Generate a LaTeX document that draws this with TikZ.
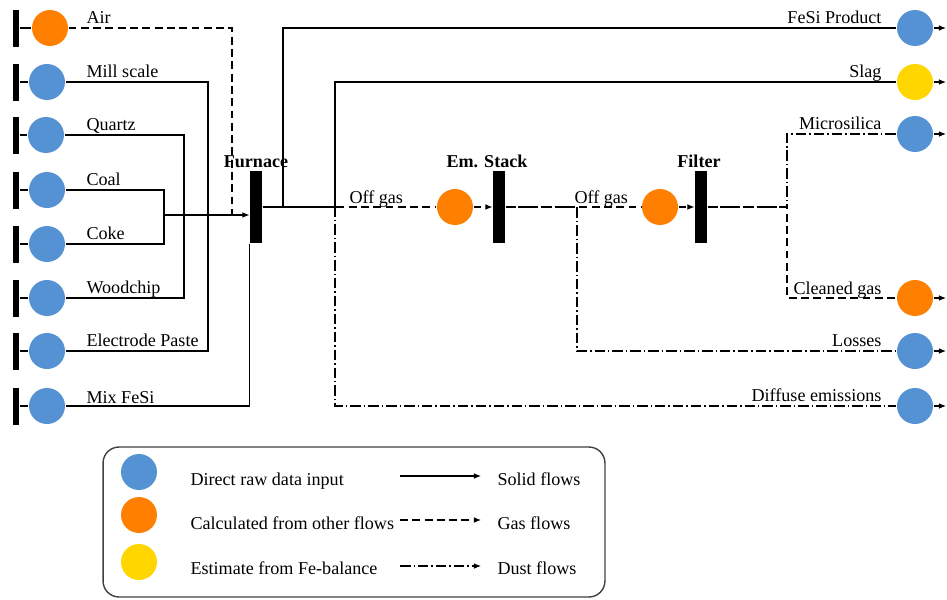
\documentclass[tikz,border=0pt]{standalone}
\usepackage{fontspec}
\setmainfont{Liberation Serif}
\usetikzlibrary{arrows.meta}

\definecolor{rawblue}{RGB}{84,146,211}
\definecolor{calcorange}{RGB}{255,127,0}
\definecolor{estyellow}{RGB}{255,214,0}

\tikzset{
  every node/.style={font=\fontsize{10.3}{12}\selectfont},
  src/.style={circle, minimum size=0.72cm, inner sep=0pt},
  rawdata/.style={src, fill=rawblue},
  calcd/.style={src, fill=calcorange},
  estim/.style={src, fill=estyellow},
  unitbar/.style={fill=black, minimum width=0.24cm, minimum height=1.46cm, inner sep=0pt},
  inbar/.style={fill=black, minimum width=0.12cm, minimum height=0.74cm, inner sep=0pt},
  inlabel/.style={anchor=base west, inner sep=0pt},
  outlabel/.style={anchor=base east, inner sep=0pt},
  unitlabel/.style={anchor=base, inner sep=0pt, font=\fontsize{10.3}{12}\selectfont\bfseries},
  gasflow/.style={dash pattern=on 4.5pt off 2.5pt},
  dustflow/.style={dash pattern=on 6pt off 1.7pt on 0.8pt off 1.7pt}
}

\begin{document}
\begin{tikzpicture}[x=0.02cm, y=-0.02cm, line width=0.6pt, >={Latex[length=4pt, width=3.2pt]}]
\useasboundingbox (0,0) rectangle (947,599);

% inputs, left
\node[inbar] at (16,  28) (airbar) {};
\node[calcd] at (50,  28) (air) {};
\node[inlabel] at (86,  23) (airlab) {Air};

\node[inbar] at (16,  82) (millbar) {};
\node[rawdata] at (47,  82) (mill) {};
\node[inlabel] at (86,  77) (milllab) {Mill scale};

\node[inbar] at (16, 135) (quartzbar) {};
\node[rawdata] at (46, 135) (quartz) {};
\node[inlabel] at (86, 130) (quartzlab) {Quartz};

\node[inbar] at (16, 190) (coalbar) {};
\node[rawdata] at (47, 190) (coal) {};
\node[inlabel] at (86, 185) (coallab) {Coal};

\node[inbar] at (16, 244) (cokebar) {};
\node[rawdata] at (47, 244) (coke) {};
\node[inlabel] at (86, 239) (cokelab) {Coke};

\node[inbar] at (16, 298) (woodbar) {};
\node[rawdata] at (47, 298) (wood) {};
\node[inlabel] at (86, 293) (woodlab) {Woodchip};

\node[inbar] at (16, 351) (pastebar) {};
\node[rawdata] at (47, 351) (paste) {};
\node[inlabel] at (86, 346) (pastelab) {Electrode Paste};

\node[inbar] at (16, 406) (mixbar) {};
\node[rawdata] at (47, 406) (mix) {};
\node[inlabel] at (86, 403) (mixlab) {Mix FeSi};

% process units
\node[unitbar] at (256, 207) (furnace) {};
\node[unitlabel] at (256, 167) (furnacelab) {Furnace};
\node[unitbar] at (499, 207) (stack) {};
\node[unitlabel] at (487, 167) (stacklab) {Em. Stack};
\node[unitbar] at (701, 207) (filter) {};
\node[unitlabel] at (699, 167) (filterlab) {Filter};

\node[calcd] at (455, 207) (gas1) {};
\node[inlabel] at (349, 203) (gas1lab) {Off gas};
\node[calcd] at (660, 207) (gas2) {};
\node[inlabel] at (574, 203) (gas2lab) {Off gas};

% outputs, right
\node[rawdata] at (915,  28) (fesi) {};
\node[outlabel] at (882,  23) (fesilab) {FeSi Product};
\node[estim] at (915,  82) (slag) {};
\node[outlabel] at (882,  77) (slaglab) {Slag};
\node[rawdata] at (915, 134) (micro) {};
\node[outlabel] at (882, 129) (microlab) {Microsilica};
\node[calcd] at (915, 298) (cleaned) {};
\node[outlabel] at (882, 294) (cleanedlab) {Cleaned gas};
\node[rawdata] at (915, 351) (losses) {};
\node[outlabel] at (882, 346) (losseslab) {Losses};
\node[rawdata] at (915, 406) (diffuse) {};
\node[outlabel] at (882, 401) (diffuselab) {Diffuse emissions};

% junctions and free ends
\coordinate (jcoal) at (164, 215);
\coordinate (jquartz) at (184, 215);
\coordinate (jmill) at (208, 215);
\coordinate (jair) at (232, 215);
\coordinate (ofesi) at (283, 207);
\coordinate (oslag) at (335, 207);
\coordinate (olosses) at (577, 207);
\coordinate (ofilter) at (787, 207);
\coordinate (efesi) at (946,  28);
\coordinate (eslag) at (946,  82);
\coordinate (emicro) at (946, 134);
\coordinate (ecleaned) at (946, 298);
\coordinate (elosses) at (946, 351);
\coordinate (ediffuse) at (946, 406);

% feed lines
\draw (airbar) -- (air);
\draw (millbar) -- (mill);
\draw (quartzbar) -- (quartz);
\draw (coalbar) -- (coal);
\draw (cokebar) -- (coke);
\draw (woodbar) -- (wood);
\draw (pastebar) -- (paste);
\draw (mixbar) -- (mix);

\draw[gasflow] (air) -| (jair);
\draw (mill) -| (jmill);
\draw (paste) -| (jmill);
\draw (quartz) -| (jquartz);
\draw (wood) -| (jquartz);
\draw (coal) -| (jcoal);
\draw (coke) -| (jcoal);
\draw[->] (jcoal) -- (furnace.west |- jcoal);
\draw (mix) -| (furnace.south west);

% furnace products
\draw (furnace.east) -- (ofesi) |- (fesi);
\draw[->] (fesi) -- (efesi);
\draw (furnace.east) -- (oslag) |- (slag);
\draw[->] (slag) -- (eslag);
\draw[dustflow] (furnace.east) -- (oslag) |- (diffuse);
\draw[dustflow, ->] (diffuse) -- (ediffuse);

% off gas line
\draw[gasflow] (furnace.east) -- (gas1);
\draw[gasflow, ->] (gas1) -- (stack.west);
\draw[gasflow] (stack.east) -- (gas2);
\draw[gasflow, ->] (gas2) -- (filter.west);
\draw[dustflow] (stack.east) -- (olosses) |- (losses);
\draw[dustflow, ->] (losses) -- (elosses);

% filter products
\draw[gasflow] (filter.east) -- (ofilter) |- (cleaned);
\draw[gasflow, ->] (cleaned) -- (ecleaned);
\draw[dustflow] (filter.east) -- (ofilter) |- (micro);
\draw[dustflow, ->] (micro) -- (emicro);

% legend
\node[draw=black!75, line width=0.8pt, rounded corners=0.32cm, minimum width=10.04cm, minimum height=3cm] at (354, 522) (legend) {};
\node[rawdata] at (139, 472) (lraw) {};
\node[calcd] at (139, 515) (lcalc) {};
\node[estim] at (139, 562) (lest) {};
\node[inlabel] at (190, 485) (lrawlab) {Direct raw data input};
\node[inlabel] at (190, 529) (lcalclab) {Calculated from other flows};
\node[inlabel] at (190, 574) (lestlab) {Estimate from Fe-balance};

\coordinate (lsolida) at (400, 476);
\coordinate (lsolidb) at (481, 476);
\coordinate (lgasa) at (400, 520);
\coordinate (lgasb) at (481, 520);
\coordinate (ldusta) at (400, 566);
\coordinate (ldustb) at (481, 566);
\draw[->] (lsolida) -- (lsolidb);
\draw[gasflow, ->] (lgasa) -- (lgasb);
\draw[dustflow, ->] (ldusta) -- (ldustb);
\node[inlabel] at (497, 485) (lsolidlab) {Solid flows};
\node[inlabel] at (497, 529) (lgaslab) {Gas flows};
\node[inlabel] at (497, 574) (ldustlab) {Dust flows};

\end{tikzpicture}
\end{document}
